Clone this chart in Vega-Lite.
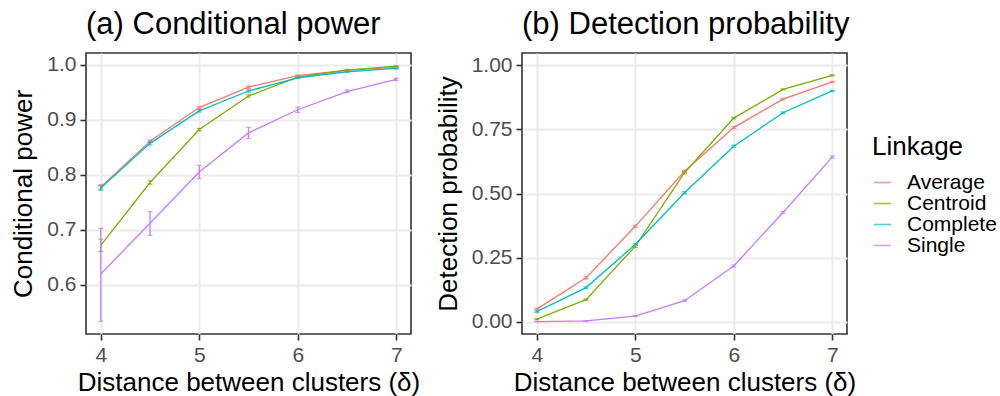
{
  "$schema": "https://vega.github.io/schema/vega-lite/v6.json",
  "background": "white",
  "padding": {"left": 10, "top": 8, "right": 0, "bottom": 0},
  "spacing": 13,
  "config": {
    "font": "Liberation Sans",
    "view": {"stroke": "#333333", "strokeWidth": 1.6},
    "axis": {
      "labelFont": "Liberation Sans",
      "titleFont": "Liberation Sans",
      "labelFontSize": 21,
      "labelColor": "#4D4D4D",
      "titleFontSize": 26,
      "titleFontWeight": "normal",
      "titleColor": "black",
      "tickColor": "#333333",
      "tickSize": 6,
      "tickWidth": 1.6,
      "labelPadding": 4,
      "domain": false,
      "gridColor": "#EBEBEB",
      "gridWidth": 2
    },
    "title": {"font": "Liberation Sans", "fontSize": 31, "fontWeight": "normal", "color": "black", "anchor": "start", "frame": "group", "offset": 12},
    "legend": {
      "titleFont": "Liberation Sans",
      "labelFont": "Liberation Sans",
      "titleFontSize": 26,
      "titleFontWeight": "normal",
      "titleColor": "black",
      "labelFontSize": 21,
      "labelColor": "black",
      "symbolType": "stroke",
      "symbolSize": 300,
      "symbolStrokeWidth": 1.6,
      "rowPadding": -2,
      "titlePadding": 12,
      "labelOffset": 14
    }
  },
  "datasets": {
    "cp": [
      {"delta": 4, "linkage": "Average", "value": 0.778, "lo": 0.774, "hi": 0.782},
      {"delta": 4.5, "linkage": "Average", "value": 0.861, "lo": 0.859, "hi": 0.863},
      {"delta": 5, "linkage": "Average", "value": 0.922, "lo": 0.920, "hi": 0.924},
      {"delta": 5.5, "linkage": "Average", "value": 0.959, "lo": 0.957, "hi": 0.961},
      {"delta": 6, "linkage": "Average", "value": 0.980, "lo": 0.979, "hi": 0.981},
      {"delta": 6.5, "linkage": "Average", "value": 0.990, "lo": 0.989, "hi": 0.991},
      {"delta": 7, "linkage": "Average", "value": 0.995, "lo": 0.994, "hi": 0.996},
      {"delta": 4, "linkage": "Centroid", "value": 0.672, "lo": 0.661, "hi": 0.683},
      {"delta": 4.5, "linkage": "Centroid", "value": 0.786, "lo": 0.783, "hi": 0.789},
      {"delta": 5, "linkage": "Centroid", "value": 0.882, "lo": 0.880, "hi": 0.884},
      {"delta": 5.5, "linkage": "Centroid", "value": 0.943, "lo": 0.941, "hi": 0.945},
      {"delta": 6, "linkage": "Centroid", "value": 0.977, "lo": 0.976, "hi": 0.978},
      {"delta": 6.5, "linkage": "Centroid", "value": 0.990, "lo": 0.989, "hi": 0.991},
      {"delta": 7, "linkage": "Centroid", "value": 0.997, "lo": 0.996, "hi": 0.998},
      {"delta": 4, "linkage": "Complete", "value": 0.776, "lo": 0.772, "hi": 0.780},
      {"delta": 4.5, "linkage": "Complete", "value": 0.857, "lo": 0.854, "hi": 0.860},
      {"delta": 5, "linkage": "Complete", "value": 0.916, "lo": 0.914, "hi": 0.918},
      {"delta": 5.5, "linkage": "Complete", "value": 0.952, "lo": 0.950, "hi": 0.954},
      {"delta": 6, "linkage": "Complete", "value": 0.976, "lo": 0.975, "hi": 0.977},
      {"delta": 6.5, "linkage": "Complete", "value": 0.987, "lo": 0.986, "hi": 0.988},
      {"delta": 7, "linkage": "Complete", "value": 0.993, "lo": 0.992, "hi": 0.994},
      {"delta": 4, "linkage": "Single", "value": 0.620, "lo": 0.534, "hi": 0.703},
      {"delta": 4.5, "linkage": "Single", "value": 0.712, "lo": 0.690, "hi": 0.733},
      {"delta": 5, "linkage": "Single", "value": 0.805, "lo": 0.793, "hi": 0.817},
      {"delta": 5.5, "linkage": "Single", "value": 0.876, "lo": 0.866, "hi": 0.886},
      {"delta": 6, "linkage": "Single", "value": 0.918, "lo": 0.913, "hi": 0.923},
      {"delta": 6.5, "linkage": "Single", "value": 0.951, "lo": 0.949, "hi": 0.954},
      {"delta": 7, "linkage": "Single", "value": 0.973, "lo": 0.971, "hi": 0.975}
    ],
    "dp": [
      {"delta": 4, "linkage": "Average", "value": 0.049, "lo": 0.046, "hi": 0.052},
      {"delta": 4.5, "linkage": "Average", "value": 0.171, "lo": 0.167, "hi": 0.175},
      {"delta": 5, "linkage": "Average", "value": 0.372, "lo": 0.368, "hi": 0.376},
      {"delta": 5.5, "linkage": "Average", "value": 0.587, "lo": 0.583, "hi": 0.591},
      {"delta": 6, "linkage": "Average", "value": 0.757, "lo": 0.753, "hi": 0.761},
      {"delta": 6.5, "linkage": "Average", "value": 0.868, "lo": 0.865, "hi": 0.871},
      {"delta": 7, "linkage": "Average", "value": 0.935, "lo": 0.933, "hi": 0.937},
      {"delta": 4, "linkage": "Centroid", "value": 0.010, "lo": 0.008, "hi": 0.012},
      {"delta": 4.5, "linkage": "Centroid", "value": 0.086, "lo": 0.083, "hi": 0.089},
      {"delta": 5, "linkage": "Centroid", "value": 0.294, "lo": 0.290, "hi": 0.298},
      {"delta": 5.5, "linkage": "Centroid", "value": 0.581, "lo": 0.577, "hi": 0.585},
      {"delta": 6, "linkage": "Centroid", "value": 0.794, "lo": 0.791, "hi": 0.797},
      {"delta": 6.5, "linkage": "Centroid", "value": 0.906, "lo": 0.904, "hi": 0.908},
      {"delta": 7, "linkage": "Centroid", "value": 0.961, "lo": 0.959, "hi": 0.963},
      {"delta": 4, "linkage": "Complete", "value": 0.039, "lo": 0.036, "hi": 0.042},
      {"delta": 4.5, "linkage": "Complete", "value": 0.133, "lo": 0.130, "hi": 0.136},
      {"delta": 5, "linkage": "Complete", "value": 0.301, "lo": 0.297, "hi": 0.305},
      {"delta": 5.5, "linkage": "Complete", "value": 0.503, "lo": 0.499, "hi": 0.507},
      {"delta": 6, "linkage": "Complete", "value": 0.684, "lo": 0.680, "hi": 0.688},
      {"delta": 6.5, "linkage": "Complete", "value": 0.815, "lo": 0.812, "hi": 0.818},
      {"delta": 7, "linkage": "Complete", "value": 0.900, "lo": 0.898, "hi": 0.902},
      {"delta": 4, "linkage": "Single", "value": 0.000, "lo": 0.000, "hi": 0.001},
      {"delta": 4.5, "linkage": "Single", "value": 0.003, "lo": 0.002, "hi": 0.004},
      {"delta": 5, "linkage": "Single", "value": 0.022, "lo": 0.020, "hi": 0.024},
      {"delta": 5.5, "linkage": "Single", "value": 0.082, "lo": 0.079, "hi": 0.085},
      {"delta": 6, "linkage": "Single", "value": 0.217, "lo": 0.213, "hi": 0.221},
      {"delta": 6.5, "linkage": "Single", "value": 0.426, "lo": 0.422, "hi": 0.430},
      {"delta": 7, "linkage": "Single", "value": 0.642, "lo": 0.638, "hi": 0.646}
    ]
  },
  "hconcat": [
    {
      "width": 325,
      "height": 281,
      "title": {"text": "(a) Conditional power"},
      "data": {"name": "cp"},
      "resolve": {"axis": {"x": "independent", "y": "independent"}},
      "layer": [
        {
          "mark": {"type": "line", "strokeWidth": 1.3},
          "encoding": {
            "x": {"field": "delta", "type": "quantitative", "scale": {"domain": [3.85, 7.15], "nice": false, "zero": false},
                  "axis": {"values": [4, 5, 6, 7], "title": "Distance between clusters (δ)", "titlePadding": 4, "format": "d"}},
            "y": {"field": "value", "type": "quantitative", "scale": {"domain": [0.511, 1.021], "nice": false, "zero": false},
                  "axis": {"values": [0.6, 0.7, 0.8, 0.9, 1.0], "format": ".1f", "title": "Conditional power", "titlePadding": 10}},
            "color": {"field": "linkage", "type": "nominal",
                      "scale": {"domain": ["Average", "Centroid", "Complete", "Single"], "range": ["#F8766D", "#7CAE00", "#00BFC4", "#C77CFF"]},
                      "legend": {"title": "Linkage", "orient": "none", "legendX": 786, "legendY": 81, "direction": "vertical"}}
          }
        },
        {
          "mark": {"type": "errorbar", "ticks": {"size": 5}, "thickness": 1.3},
          "encoding": {
            "x": {"field": "delta", "type": "quantitative",
                  "axis": {"orient": "top", "values": [4.5, 5.5, 6.5], "labels": false, "ticks": false, "domain": false, "title": null, "gridWidth": 1}},
            "y": {"field": "lo", "type": "quantitative",
                  "axis": {"orient": "right", "values": [0.55, 0.65, 0.75, 0.85, 0.95], "labels": false, "ticks": false, "domain": false, "title": null, "gridWidth": 1}},
            "y2": {"field": "hi"},
            "color": {"field": "linkage", "type": "nominal"}
          }
        }
      ]
    },
    {
      "width": 325,
      "height": 281,
      "title": {"text": "(b) Detection probability"},
      "data": {"name": "dp"},
      "resolve": {"axis": {"x": "independent", "y": "independent"}},
      "layer": [
        {
          "mark": {"type": "line", "strokeWidth": 1.3},
          "encoding": {
            "x": {"field": "delta", "type": "quantitative", "scale": {"domain": [3.85, 7.15], "nice": false, "zero": false},
                  "axis": {"values": [4, 5, 6, 7], "title": "Distance between clusters (δ)", "titlePadding": 4, "format": "d"}},
            "y": {"field": "value", "type": "quantitative", "scale": {"domain": [-0.048, 1.048], "nice": false, "zero": false},
                  "axis": {"values": [0, 0.25, 0.5, 0.75, 1.0], "format": ".2f", "title": "Detection probability", "titlePadding": 10}},
            "color": {"field": "linkage", "type": "nominal"}
          }
        },
        {
          "mark": {"type": "errorbar", "ticks": {"size": 5}, "thickness": 1.3},
          "encoding": {
            "x": {"field": "delta", "type": "quantitative",
                  "axis": {"orient": "top", "values": [4.5, 5.5, 6.5], "labels": false, "ticks": false, "domain": false, "title": null, "gridWidth": 1}},
            "y": {"field": "lo", "type": "quantitative",
                  "axis": {"orient": "right", "values": [0.125, 0.375, 0.625, 0.875], "labels": false, "ticks": false, "domain": false, "title": null, "gridWidth": 1}},
            "y2": {"field": "hi"},
            "color": {"field": "linkage", "type": "nominal"}
          }
        }
      ]
    }
  ]
}
